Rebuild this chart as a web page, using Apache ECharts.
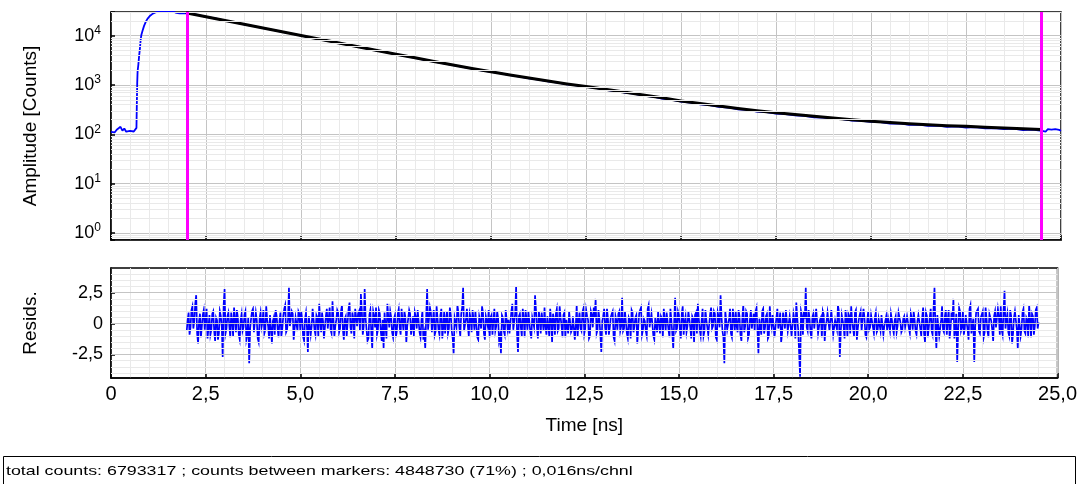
<!DOCTYPE html>
<html><head><meta charset="utf-8">
<script src="https://cdn.jsdelivr.net/npm/echarts@6/dist/echarts.min.js"></script>
<style>html,body{margin:0;padding:0;background:#fff;}#c{width:1080px;height:484px;}</style>
</head><body><div id="c"></div>
<script>
// ---- data ----
const xTickValues = [0, 2.5, 5, 7.5, 10, 12.5, 15, 17.5, 20, 22.5, 25];
const markerTimes = [2.0, 24.47];
const fitTimes = [2.0,2.5,3.0,3.5,4.0,4.5,5.0,5.5,6.0,6.5,7.0,7.5,8.0,8.5,9.0,9.5,10.0,10.5,11.0,11.5,12.0,12.5,13.0,13.5,14.0,14.5,15.0,15.5,16.0,16.5,17.0,17.5,18.0,18.5,19.0,19.5,20.0,20.5,21.0,21.5,22.0,22.5,23.0,23.5,24.0,24.47];
const fitCounts = [28800,24200,20300,17050,14300,12000,10100,8480,7120,5980,5020,4220,3560,3000,2540,2170,1860,1600,1380,1200,1050,930,820,720,630,550,475,420,375,335,302,275,252,232,214,198,185,174,164,156,150,145,139,134,129,125];
const rawData = [
 [0,112],[0.05,118],[0.1,110],[0.15,124],[0.2,116],[0.25,142],[0.3,119],[0.35,131],[0.4,113],[0.45,122],[0.5,117],[0.55,127],[0.6,114],[0.65,120],
 [0.67,135],[0.68,420],[0.69,1100],[0.70,1900],[0.72,2600],[0.74,3900],[0.76,5400],[0.78,8200],[0.80,10500],[0.83,12600],[0.87,15800],[0.92,19500],[0.97,22500],[1.03,25400],[1.1,28000],[1.17,29600],[1.25,30600],[1.35,31000],[1.45,30800],[1.55,31100],[1.65,30700],[1.72,28900],[1.8,28500],[1.9,28700],
 [2.0,28500],[2.25,26600],[2.5,24100],[2.75,22300],[3.0,20200],[3.25,18700],[3.5,17000],[3.75,15600],[4.0,14250],[4.25,13100],[4.5,11950],[4.75,11000],
 [5.0,10050],[5.25,9250],[5.5,8450],[5.75,7750],[6.0,7100],[6.25,6500],[6.5,5960],[6.75,5470],[7.0,5000],[7.25,4600],[7.5,4200],[7.75,3850],
 [8.0,3530],[8.25,3250],[8.5,2980],[8.75,2750],[9.0,2520],[9.25,2340],[9.5,2150],[9.75,1990],[10.0,1840],[10.25,1720],[10.5,1580],[10.75,1480],
 [11.0,1360],[11.25,1280],[11.5,1180],[11.75,1120],[12.0,1030],[12.25,985],[12.5,915],[12.75,870],[13.0,800],[13.25,765],[13.5,705],[13.75,670],
 [14.0,610],[14.25,585],[14.5,530],[14.75,505],[15.0,460],[15.25,440],[15.5,405],[15.75,390],[16.0,362],[16.25,350],[16.5,322],[16.75,313],
 [17.0,290],[17.25,283],[17.5,262],[17.75,258],[18.0,242],[18.25,236],[18.5,222],[18.75,218],[19.0,205],[19.25,203],[19.5,190],[19.75,187],
 [20.0,178],[20.25,176],[20.5,165],[20.75,166],[21.0,156],[21.25,157],[21.5,149],[21.75,150],[22.0,142],[22.25,145],[22.5,137],[22.75,140],
 [23.0,132],[23.25,134],[23.5,127],[23.75,130],[24.0,122],[24.25,125],
 [24.5,118],[24.55,124],[24.6,114],[24.65,127],[24.7,119],[24.75,125],[24.8,116],[24.85,128],[24.9,120],[24.95,123],[25,118]
];
const residStart = 2.0;      // ns
const residStep = 0.05;      // ns between values of `residuals`; `residualsMid` sit half a step later
const residuals = [
 -0.6,0.9,-0.3,1.4,0.2,2.3,-1.6,0.8,-0.2,1.1,
 0.4,-1.2,0.7,-0.5,1.0,-1.4,0.3,-0.8,0.6,-2.7,
 2.8,-0.4,0.9,-1.1,0.2,1.3,-0.7,0.5,-1.3,0.8,
 -0.3,1.0,-0.9,-3.2,0.4,1.2,-0.6,0.3,-1.5,0.9,
 0.1,-0.8,1.4,-0.2,0.7,-1.6,0.5,1.1,-0.4,0.2,
 -1.0,0.6,1.5,-0.5,2.9,-0.3,0.8,-1.2,0.4,1.0,
 -0.6,0.3,-1.4,0.9,-2.3,0.7,-0.2,1.3,-0.9,0.5,
 1.6,-0.7,0.2,-1.1,1.2,0.4,-0.5,1.8,-1.0,0.3,
 0.9,-0.4,1.5,-1.3,0.6,0.1,1.7,-0.8,0.4,1.2,
 -0.2,1.0,2.4,-0.9,2.8,0.3,-1.2,1.1,-2.0,0.6,
 1.3,-0.5,0.8,-1.4,-2.0,0.9,1.6,-0.3,0.5,-1.1,
 0.7,-0.6,1.2,-0.9,0.2,1.0,-1.5,0.4,0.8,-0.3,
 -1.0,0.5,1.1,-0.7,0.3,-1.3,-2.0,2.8,-0.4,0.9,
 0.2,-0.9,1.4,-0.5,0.7,-1.2,1.0,0.3,-0.8,1.3,
 -0.6,-2.4,0.6,1.5,-0.3,0.8,2.9,-0.7,1.2,-1.0,
 0.4,1.1,-0.5,0.9,-1.3,0.2,1.4,-0.8,0.6,-0.2,
 -1.1,0.7,0.2,-0.6,1.0,-1.4,-2.4,0.5,-0.9,1.2,
 0.3,-0.7,1.6,-0.4,3.0,-2.3,0.8,-1.0,0.4,1.1,
 -0.5,0.9,-1.2,0.6,2.3,-0.3,1.0,-0.8,0.2,1.3,
 -0.9,0.5,1.2,-1.5,0.3,0.8,-0.6,1.4,-0.2,0.7,
 -1.1,0.4,1.0,-0.7,0.6,-1.3,1.5,0.2,-0.4,0.9,
 -0.8,1.1,0.3,-1.0,0.7,1.3,2.0,-0.5,0.4,-2.3,
 0.6,-0.3,1.2,-0.9,0.5,1.0,-1.4,0.2,0.8,-0.6,
 2.1,-0.4,0.9,-1.2,0.3,1.1,-0.7,0.5,-1.6,0.8,
 1.3,-0.5,0.2,-1.0,1.5,-0.3,0.7,-1.3,0.6,1.0,
 -0.8,0.4,1.2,-0.6,0.9,-1.1,0.3,-2.0,2.1,-0.4,
 0.7,-1.2,1.4,0.1,-0.7,1.0,-0.3,0.6,-1.5,0.9,
 1.6,-0.5,0.3,-1.0,1.1,0.4,-0.9,1.3,-0.2,0.8,
 -1.3,0.5,2.3,-0.6,-3.2,0.9,-0.4,1.2,-1.1,0.3,
 1.0,-0.7,0.6,-1.4,1.5,-0.2,0.8,-0.9,1.1,0.2,
 -0.6,1.3,-2.4,0.4,1.0,-0.8,0.6,-1.2,1.4,-0.3,
 0.7,-1.0,1.2,0.1,-1.5,0.9,-0.4,1.1,-0.7,0.5,
 -0.9,0.3,1.7,-0.5,-4.3,0.6,1.0,2.9,-0.6,0.4,
 -1.2,0.8,-0.3,1.3,-0.9,0.5,1.0,-1.4,0.2,0.9,
 -0.5,1.2,-0.8,0.4,1.5,-2.7,0.7,-0.2,1.1,-1.0,
 0.6,1.4,-0.4,0.9,-1.3,0.3,1.0,-0.7,0.5,-1.1,
 1.0,-0.3,0.6,-0.8,0.9,-0.5,0.4,0.7,-0.9,0.2,
 -0.6,0.5,0.8,-0.4,0.3,-0.7,0.9,0.1,-0.5,0.6,
 -0.3,0.7,-0.8,0.4,1.0,-0.6,0.2,0.8,-1.0,1.3,
 -1.5,0.6,-0.3,1.2,-0.9,2.9,-2.0,0.8,-0.4,1.4,
 -0.7,1.1,0.3,-1.2,0.9,2.0,-0.5,-3.1,1.3,-0.6,
 1.0,-0.4,0.7,-1.3,1.5,-0.2,-3.1,0.9,1.2,-0.8,
 0.4,-1.1,1.3,-0.6,0.8,0.2,-1.4,1.0,-0.3,0.6,
 1.4,-0.9,2.65,0.3,-0.7,1.1,-1.6,0.5,0.9,-2.0,
 0.7,-0.4,1.2,-0.8,0.3,1.5,-1.1,0.6,-0.2,1.3,
 0.1
];
const residualsMid = [
 0.3,-0.9,1.1,-0.4,1.6,-0.8,0.2,-1.1,0.7,-0.5,
 1.2,-0.3,-0.9,0.8,-0.6,0.5,-1.3,1.0,-0.2,1.5,
 -0.8,0.6,-0.2,0.9,-1.0,0.4,1.1,-0.9,0.3,-0.6,
 0.7,-1.3,0.5,-0.4,1.0,-0.7,0.9,-1.2,0.4,-0.3,
 1.1,-0.5,0.3,-1.2,0.8,0.2,-0.9,0.6,-1.1,0.9,
 -0.4,1.2,-0.7,0.3,-0.2,1.0,-1.3,0.5,-0.6,0.8,
 1.0,-1.1,0.4,-0.3,0.6,-0.9,1.2,-0.5,0.7,-1.0,
 0.2,0.9,-1.2,0.6,-0.4,1.3,-0.8,0.3,-0.2,1.1,
 -0.7,1.0,-0.5,0.4,-1.0,1.2,-0.3,0.9,-1.2,0.5,
 0.8,-0.6,1.1,-0.2,0.4,-1.4,0.7,-0.8,1.0,-0.3,
 -0.9,1.1,-0.6,0.3,0.9,-1.2,0.5,1.0,-0.7,0.4,
 -1.1,0.8,-0.3,1.2,-0.6,0.5,-0.2,1.1,-0.9,0.6,
 0.9,-0.4,0.2,-1.1,1.0,-0.8,0.6,-0.5,1.3,-0.7,
 1.1,-0.6,0.4,-0.9,1.2,-0.3,-0.8,1.0,-0.4,0.7,
 -1.2,0.5,-0.3,0.9,-1.0,1.3,-0.6,0.4,-0.2,0.8,
 -0.7,0.3,1.0,-1.1,0.6,-0.4,0.9,-1.3,0.2,1.1,
 0.5,-0.9,1.2,-0.2,0.4,-1.0,0.7,-0.6,1.1,-0.4,
 -0.8,1.0,-0.5,0.8,-0.9,0.6,-0.3,1.2,-1.1,0.3,
 1.0,-0.7,0.5,-0.3,1.1,-1.2,0.4,0.9,-0.6,-0.2,
 0.6,-1.0,0.3,0.8,-0.9,1.2,-0.4,0.5,-1.1,0.9,
 0.3,-0.8,1.1,-0.5,0.7,-0.2,-1.0,0.9,-0.6,1.2,
 -0.4,0.6,-1.2,1.0,-0.3,0.5,-0.8,1.1,-0.9,0.2,
 1.2,-0.9,0.4,-0.3,0.8,-1.1,0.6,-0.5,1.0,-0.2,
 -0.6,1.0,-0.8,0.5,-1.2,0.9,-0.2,0.7,-0.4,1.1,
 -0.9,0.4,-0.6,1.2,-0.3,0.8,-1.0,0.5,-0.7,0.9,
 0.6,-1.1,0.3,0.9,-0.5,1.2,-0.8,0.2,-0.6,1.0,
 -0.5,0.8,-0.9,0.6,-0.2,1.1,-1.2,0.4,0.7,-0.8,
 0.4,-1.0,1.2,-0.6,0.3,-0.9,0.8,-0.4,1.0,-1.1,
 0.9,-0.3,0.6,-1.1,1.0,-0.5,0.4,-0.8,1.2,-0.6,
 -0.2,1.1,-0.9,0.5,-0.7,1.0,-1.2,0.3,-0.4,0.8,
 1.0,-0.6,0.4,-0.9,1.2,-0.3,0.8,-1.0,0.2,0.7,
 -1.1,0.5,-0.4,0.9,-0.8,0.3,1.1,-0.6,0.6,-1.0,
 0.8,-1.2,0.5,-0.6,1.0,-0.9,0.4,-0.3,1.1,-0.7,
 0.5,-0.4,1.2,-0.8,0.3,-1.1,0.7,-0.2,0.9,-0.6,
 1.1,-0.9,0.3,-0.5,1.0,-0.7,0.6,-1.2,0.4,0.8,
 -0.8,0.2,-1.0,1.1,-0.4,0.7,-0.6,1.2,-0.9,0.3,
 -0.5,0.7,-0.3,0.5,-0.7,0.4,-0.6,0.8,-0.2,0.6,
 0.4,-0.6,0.3,-0.8,0.6,-0.2,0.5,-0.7,0.4,-0.3,
 0.6,-0.4,0.8,-0.5,0.3,-0.9,0.7,-0.4,0.5,-0.8,
 0.9,-1.1,0.5,-0.6,1.2,-0.4,0.7,-1.0,0.3,-0.5,
 0.6,-0.9,1.1,-0.4,0.3,-1.2,0.8,-0.6,1.0,-0.3,
 -0.9,0.7,-0.5,1.2,-0.8,0.4,-0.3,1.0,-0.6,0.5,
 1.0,-0.7,0.4,-1.1,0.9,-0.5,0.6,-0.3,1.2,-0.9,
 -0.5,1.1,-0.4,0.8,-1.0,0.6,-0.8,1.0,-0.5,0.7,
 -1.0,0.9,-0.6,0.5,-1.1,0.4,0.8,-0.9,1.1,-0.4
];
const ampMinorValues = [0.8,0.9,2,3,4,5,6,7,8,9,20,30,40,50,60,70,80,90,200,300,400,500,600,700,800,900,2000,3000,4000,5000,6000,7000,8000,9000,20000,30000];
const residTickValues = [-2.5, 0, 2.5];
const residMinorValues = [-4,-3.5,-3,-2,-1.5,-1,-0.5,0.5,1,1.5,2,3,3.5,4];
const infoText = 'total counts: 6793317 ; counts between markers: 4848730 (71%) ; 0,016ns/chnl';

// ---- chart ----
const FONT = 'Liberation Sans, Arial, sans-serif';
const chart = echarts.init(document.getElementById('c'), null, {renderer: 'canvas'});
const fitData = fitTimes.map((t, i) => [t, fitCounts[i]]);
const residData = [];
residuals.forEach((r, i) => {
  const t = residStart + i * residStep;
  residData.push([+t.toFixed(4), r]);
  if (i < residualsMid.length) residData.push([+(t + residStep / 2).toFixed(4), residualsMid[i]]);
});
const xFmt = v => v === 0 ? '0' : v.toFixed(1).replace('.', ',');
const minorLine = {color: '#e9e9e9', width: 1, type: 'solid'};
const majorLine = {color: '#c4c4c4', width: 1, type: 'solid'};

const xAxisBase = {
  type: 'value', min: 0, max: 25, interval: 2.5,
  axisLine: {show: true, onZero: false, lineStyle: {color: '#000', width: 1.5}},
  axisTick: {show: true, inside: true, length: 5, lineStyle: {color: '#000', width: 1.5}},
  splitLine: {show: true, lineStyle: majorLine},
  minorTick: {show: false, splitNumber: 5},
  minorSplitLine: {show: true, lineStyle: minorLine}
};

chart.setOption({
  animation: false,
  backgroundColor: '#fff',
  grid: [
    {left: 111, right: 19, top: 12, height: 228, show: true, borderColor: '#000', borderWidth: 1.5, backgroundColor: 'transparent'},
    {left: 111, right: 19, top: 268, height: 110, show: true, borderColor: '#000', borderWidth: 1.5, backgroundColor: 'transparent'}
  ],
  xAxis: [
    Object.assign({}, xAxisBase, {gridIndex: 0, axisLabel: {show: false}}),
    Object.assign({}, xAxisBase, {gridIndex: 1,
      axisLabel: {show: true, margin: 6, fontSize: 20, fontFamily: FONT, color: '#000', formatter: xFmt},
      name: 'Time [ns]', nameLocation: 'middle', nameGap: 38,
      nameTextStyle: {fontSize: 19, fontFamily: FONT, color: '#000'}})
  ],
  yAxis: [
    {type: 'log', logBase: 10, gridIndex: 0, min: 0.72, max: 30200,
      axisLine: {show: true, lineStyle: {color: '#000', width: 1.5}},
      axisTick: {show: true, inside: true, length: 4, lineStyle: {color: '#000', width: 1.5}},
      splitLine: {show: true, lineStyle: majorLine},
      axisLabel: {show: true, margin: 10, color: '#000',
        formatter: v => {
          const e = Math.round(Math.log10(v));
          if (Math.abs(Math.log10(v) - e) > 1e-6) return '';
          return '{b|10}{s|' + e + '}';
        },
        rich: {
          b: {fontSize: 18, fontFamily: FONT, color: '#000', lineHeight: 22},
          s: {fontSize: 12, fontFamily: FONT, color: '#000', verticalAlign: 'top', lineHeight: 12}
        }},
      name: 'Amplitude [Counts]', nameLocation: 'middle', nameGap: 71,
      nameTextStyle: {fontSize: 19, fontFamily: FONT, color: '#000'}},
    {type: 'value', gridIndex: 1, min: -4.4, max: 4.5,
      axisLine: {show: true, onZero: false, lineStyle: {color: '#000', width: 1.5}},
      axisTick: {show: true, inside: true, length: 4, customValues: residTickValues, lineStyle: {color: '#000', width: 1.5}},
      splitLine: {show: false},
      axisLabel: {show: true, margin: 8, fontSize: 18, fontFamily: FONT, color: '#000', customValues: residTickValues,
        formatter: v => v === 0 ? '0' : String(v).replace('.', ',')},
      name: 'Resids.', nameLocation: 'middle', nameGap: 71,
      nameTextStyle: {fontSize: 19, fontFamily: FONT, color: '#000'}}
  ],
  series: [
    {type: 'line', name: 'ampGrid', xAxisIndex: 0, yAxisIndex: 0, data: [], silent: true, z: 1,
      markLine: {silent: true, symbol: 'none', animation: false, label: {show: false},
        lineStyle: minorLine, data: ampMinorValues.map(v => ({yAxis: v}))}},
    {type: 'line', name: 'raw', xAxisIndex: 0, yAxisIndex: 0, data: rawData, showSymbol: false, symbol: 'none',
      lineStyle: {color: '#0000ff', width: 1.8}, itemStyle: {color: '#0000ff'}, z: 3, clip: true},
    {type: 'line', name: 'fit', xAxisIndex: 0, yAxisIndex: 0, data: fitData, showSymbol: false, symbol: 'none',
      lineStyle: {color: '#000', width: 3, cap: 'round', join: 'round'}, itemStyle: {color: '#000'}, z: 4, clip: true},
    {type: 'line', name: 'markers', xAxisIndex: 0, yAxisIndex: 0, data: [], silent: true, z: 5,
      markLine: {silent: true, symbol: 'none', animation: false, label: {show: false},
        lineStyle: {color: '#ff00ff', width: 3, type: 'solid'}, data: markerTimes.map(t => ({xAxis: t}))}},
    {type: 'line', name: 'residGrid', xAxisIndex: 1, yAxisIndex: 1, data: [], silent: true, z: 1,
      markLine: {silent: true, symbol: 'none', animation: false, label: {show: false},
        data: residMinorValues.map(v => ({yAxis: v, lineStyle: minorLine}))
          .concat(residTickValues.map(v => ({yAxis: v, lineStyle: majorLine})))}},
    {type: 'line', name: 'resid', xAxisIndex: 1, yAxisIndex: 1, data: residData, showSymbol: false, symbol: 'none',
      sampling: false, lineStyle: {color: '#0000ff', width: 1.7, join: 'miter'}, itemStyle: {color: '#0000ff'}, z: 3, clip: true}
  ],
  graphic: [
    {type: 'rect', left: 3, top: 456, shape: {width: 1072, height: 40}, style: {fill: '#fff', stroke: '#000', lineWidth: 1}, z: 10},
    {type: 'text', x: 6, y: 471, scaleX: 1.37, style: {text: infoText, fontSize: 13, fontFamily: FONT, fill: '#000', verticalAlign: 'middle', align: 'left'}, z: 11}
  ]
});
</script></body></html>
